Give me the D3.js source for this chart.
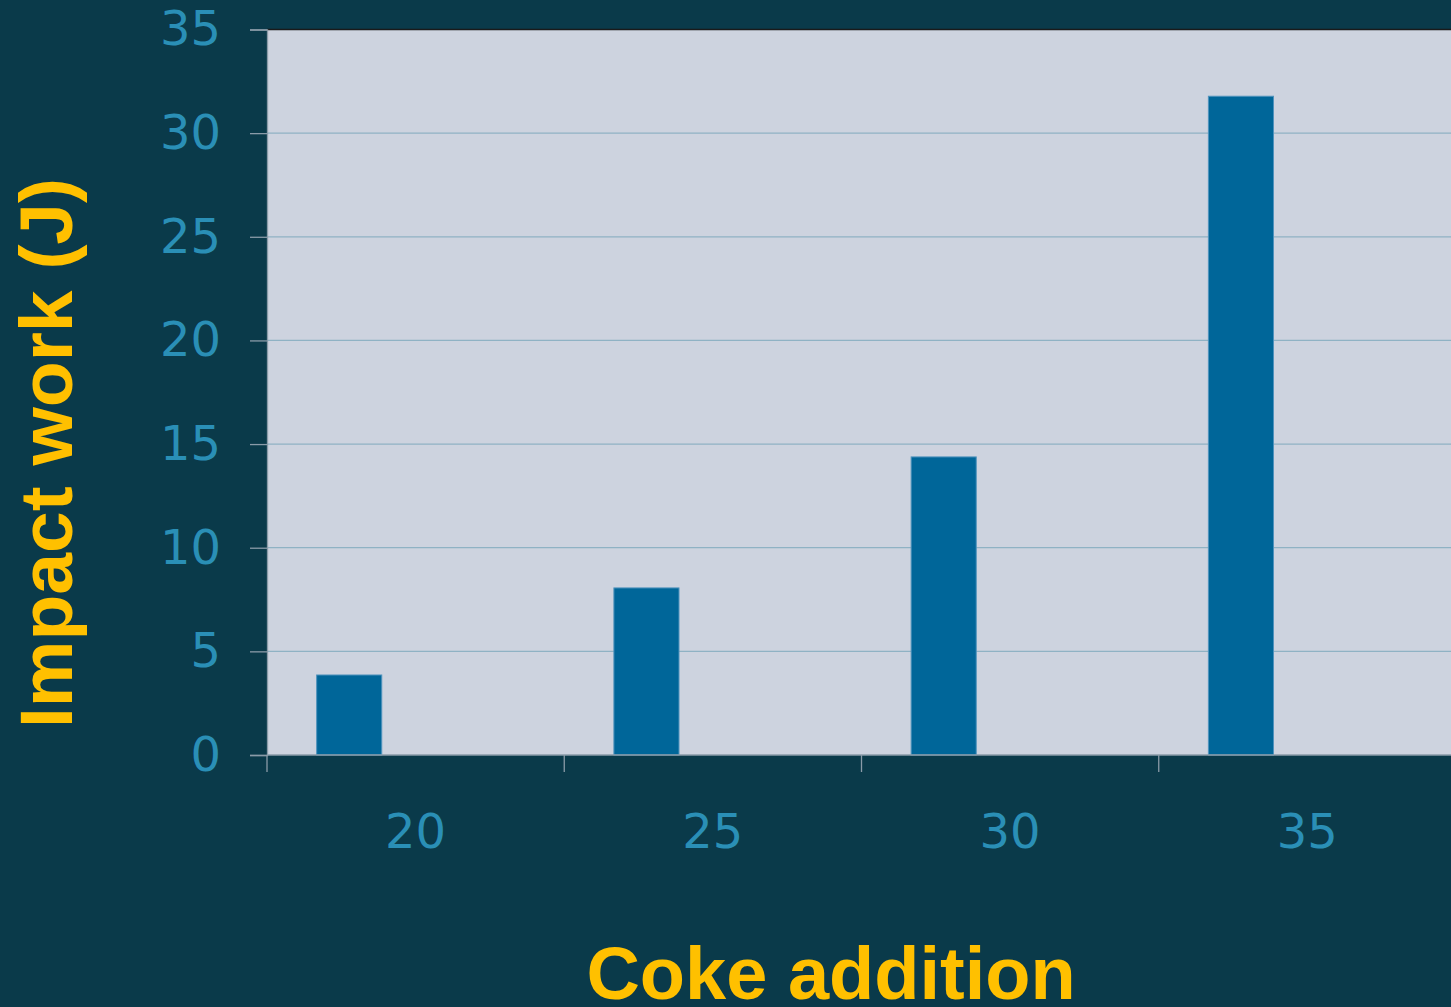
<!DOCTYPE html>
<html>
<head>
<meta charset="utf-8">
<script src="https://cdn.jsdelivr.net/npm/d3@7"></script>
<style>
  html, body { margin: 0; padding: 0; background: #0a3a4a; }
  svg { display: block; }
</style>
</head>
<body>
<svg id="chart" width="1451" height="1007"></svg>
<script>
// data
var categories = ["20", "25", "30", "35"];
var impactWork = [3.86, 8.06, 14.38, 31.78];
var yTicks = [0, 5, 10, 15, 20, 25, 30, 35];

var ctx = {
  w: 1451, h: 1007,
  left: 267, right: 1456, top: 29.5, bottom: 755,
  bg: "#0a3a4a", plotBg: "#cdd3df", bar: "#006699",
  grid: "#8fb2c4", tickText: "#2a8fb6", title: "#ffc000"
};

var svg = d3.select("#chart");
svg.append("rect").attr("width", ctx.w).attr("height", ctx.h).attr("fill", ctx.bg);

// plot runs a little past the right edge of the picture
var x = d3.scaleBand().domain(categories).range([ctx.left, ctx.right]).padding(0);
var y = d3.scaleLinear().domain([0, 35]).range([ctx.bottom, ctx.top]);
var bw = x.bandwidth();

// plot area
svg.append("rect")
  .attr("x", ctx.left).attr("y", ctx.top)
  .attr("width", ctx.right - ctx.left).attr("height", ctx.bottom - ctx.top)
  .attr("fill", ctx.plotBg);

// gridlines
svg.append("g").selectAll("line")
  .data(yTicks.filter(d => d > 0 && d < 35))
  .enter().append("line")
  .attr("x1", ctx.left).attr("x2", ctx.right)
  .attr("y1", d => y(d)).attr("y2", d => y(d))
  .attr("stroke", ctx.grid).attr("stroke-width", 1.3);

// top border
svg.append("line")
  .attr("x1", ctx.left).attr("x2", ctx.right)
  .attr("y1", ctx.top).attr("y2", ctx.top)
  .attr("stroke", "#1a1a1a").attr("stroke-width", 1.5);

// bars - sit left of band centre, like the original clustered layout
svg.append("g").selectAll("rect")
  .data(impactWork)
  .enter().append("rect")
  .attr("x", (d, i) => x(categories[i]) + 0.167 * bw)
  .attr("width", 0.219 * bw)
  .attr("y", d => y(d))
  .attr("height", d => y(0) - y(d))
  .attr("fill", ctx.bar)
  .attr("stroke", "#4f93bd").attr("stroke-width", 1);

// y axis
var yAxis = svg.append("g")
  .attr("transform", "translate(" + ctx.left + ",0)")
  .call(d3.axisLeft(y).tickValues(yTicks).tickSize(17).tickPadding(29));
yAxis.select(".domain").attr("stroke", "#8a9ba8").attr("stroke-width", 1.3);
yAxis.selectAll(".tick line").attr("stroke", "#8a9ba8").attr("stroke-width", 1.3);
yAxis.selectAll(".tick text")
  .attr("fill", ctx.tickText)
  .style("font-family", "'DejaVu Sans', Verdana, sans-serif")
  .style("font-size", "48px");

// x axis: ticks on band edges, labels in band centres
var edges = categories.map(d => x(d)).concat([ctx.right]);
var xAxisG = svg.append("g");
xAxisG.append("line")
  .attr("x1", ctx.left).attr("x2", ctx.right)
  .attr("y1", ctx.bottom).attr("y2", ctx.bottom)
  .attr("stroke", "#8a9ba8").attr("stroke-width", 1.3);
xAxisG.selectAll("line.tk")
  .data(edges)
  .enter().append("line").attr("class", "tk")
  .attr("x1", d => d).attr("x2", d => d)
  .attr("y1", ctx.bottom).attr("y2", ctx.bottom + 17)
  .attr("stroke", "#8a9ba8").attr("stroke-width", 1.3);
xAxisG.selectAll("text")
  .data(categories)
  .enter().append("text")
  .attr("x", d => x(d) + bw / 2)
  .attr("y", 848)
  .attr("text-anchor", "middle")
  .attr("fill", ctx.tickText)
  .style("font-family", "'DejaVu Sans', Verdana, sans-serif")
  .style("font-size", "48px")
  .text(d => d);

// titles
svg.append("text")
  .attr("transform", "translate(72,453) rotate(-90)")
  .attr("text-anchor", "middle")
  .attr("fill", ctx.title)
  .style("font-family", "'Liberation Sans', Arial, sans-serif")
  .style("font-weight", "bold")
  .style("font-size", "75px")
  .text("Impact work (J)");

svg.append("text")
  .attr("x", 831).attr("y", 999)
  .attr("text-anchor", "middle")
  .attr("fill", ctx.title)
  .style("font-family", "'Liberation Sans', Arial, sans-serif")
  .style("font-weight", "bold")
  .style("font-size", "74px")
  .text("Coke addition");
</script>
</body>
</html>
